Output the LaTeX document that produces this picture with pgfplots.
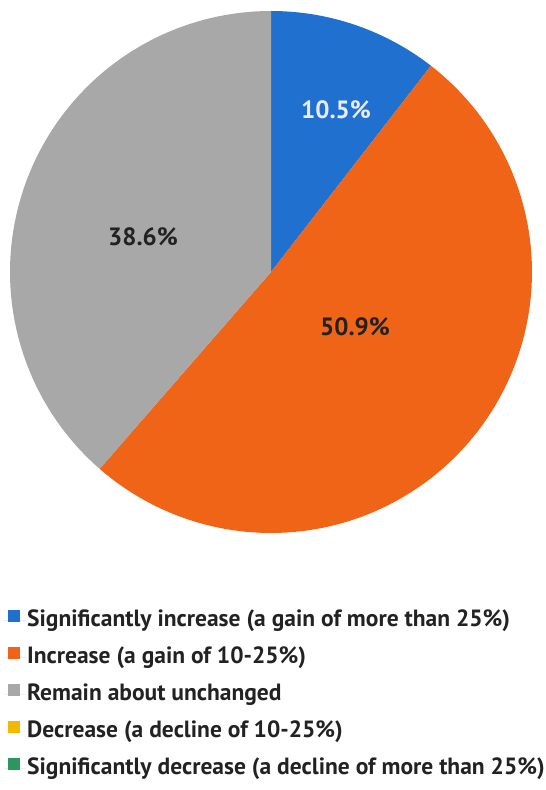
\documentclass[border=0pt]{standalone}
\usepackage{fontspec}
\setmainfont{PT Sans}
\usepackage{pgfplots}
\pgfplotsset{compat=1.18}
\definecolor{cBlue}{HTML}{2070D0}
\definecolor{cOrange}{HTML}{F06418}
\definecolor{cGray}{HTML}{A8A8A8}
\definecolor{cYellow}{HTML}{F5B800}
\definecolor{cGreen}{HTML}{2E9460}
\definecolor{cText}{HTML}{222222}
% shares in percent
\def\pA{10.5}\def\pB{50.9}\def\pC{38.6}
\pgfmathsetmacro{\aA}{90}
\pgfmathsetmacro{\aB}{90-3.6*\pA}
\pgfmathsetmacro{\aC}{\aB-3.6*\pB}
\pgfmathsetmacro{\aD}{\aC-3.6*\pC}
\def\cx{271}\def\cy{518}\def\R{261}
\begin{document}
\begin{tikzpicture}
\begin{axis}[
  x=1pt, y=1pt, xmin=0, xmax=544, ymin=0, ymax=790,
  hide axis, clip=false,
  legend cell align=left,
  legend style={draw=none, fill=none, at={(axis cs:4,182)}, anchor=north west,
    font=\bfseries\fontsize{23.5}{28}\selectfont, text=cText, row sep=12pt,
    inner sep=0pt, nodes={inner sep=1pt, text height=17pt, text depth=6pt}},
  legend image code/.code={\fill[#1] (4pt,-1pt) rectangle (16pt,11pt);
     \path (0pt,0pt) -- (22pt,0pt);},
]
\path (axis cs:0,0) rectangle (axis cs:544,790);
\addplot[fill=cBlue, draw=none, domain=\aB:\aA, samples=80, variable=\t]
  ({\cx+\R*cos(\t)},{\cy+\R*sin(\t)}) -- (axis cs:\cx,\cy) -- cycle;
\addlegendentry{Significantly increase (a gain of more than 25\%)}
\addplot[fill=cOrange, draw=none, domain=\aC:\aB, samples=120, variable=\t]
  ({\cx+\R*cos(\t)},{\cy+\R*sin(\t)}) -- (axis cs:\cx,\cy) -- cycle;
\addlegendentry{Increase (a gain of 10-25\%)}
\addplot[fill=cGray, draw=none, domain=\aD:\aC, samples=120, variable=\t]
  ({\cx+\R*cos(\t)},{\cy+\R*sin(\t)}) -- (axis cs:\cx,\cy) -- cycle;
\addlegendentry{Remain about unchanged}
\addlegendimage{fill=cYellow, draw=none}
\addlegendentry{Decrease (a decline of 10-25\%)}
\addlegendimage{fill=cGreen, draw=none}
\addlegendentry{Significantly decrease (a decline of more than 25\%)}
\node[font=\bfseries\fontsize{25}{30}\selectfont, text=white!92!blue] at (axis cs:336,680) {10.5\%};
\node[font=\bfseries\fontsize{25}{30}\selectfont, text=cText] at (axis cs:143,553) {38.6\%};
\node[font=\bfseries\fontsize{25}{30}\selectfont, text=cText] at (axis cs:355,463) {50.9\%};
\end{axis}
\end{tikzpicture}
\end{document}
